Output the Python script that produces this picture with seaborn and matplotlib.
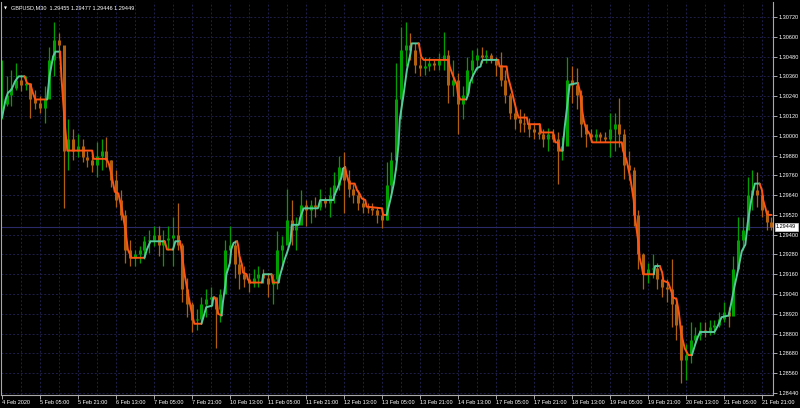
import numpy as np
import pandas as pd
import matplotlib
matplotlib.use("Agg")
import matplotlib.pyplot as plt
import matplotlib.transforms as mtransforms
import seaborn as sns

# ---------------- data ----------------
title_text = "GBPUSD,M30  1.29455 1.29477 1.29446 1.29449"
last_price = 1.29449
bar_step = 4  # each candle summarises 4 M30 bars (2 hours)

high = [
    1.3046, 1.3036, 1.3040, 1.3044, 1.3037, 1.3036, 1.3032, 1.3028, 1.3024, 1.3030,
    1.3054, 1.3069, 1.3062, 1.3036, 1.3010, 1.3004, 1.3001, 1.2998, 1.2991, 1.2990,
    1.2996, 1.2998, 1.2999, 1.2985, 1.2979, 1.2967, 1.2955, 1.2937, 1.2931, 1.2933,
    1.2939, 1.2943, 1.2945, 1.2945, 1.2943, 1.2945, 1.2951, 1.2959, 1.2935, 1.2914,
    1.2899, 1.2895, 1.2902, 1.2907, 1.2908, 1.2902, 1.2907, 1.2937, 1.2945, 1.2937,
    1.2927, 1.2921, 1.2917, 1.2919, 1.2921, 1.2919, 1.2917, 1.2916, 1.2942, 1.2939,
    1.2968, 1.2961, 1.2951, 1.2967, 1.2961, 1.2961, 1.2963, 1.2968, 1.2963, 1.2969,
    1.2978, 1.2988, 1.2990, 1.2979, 1.2971, 1.2967, 1.2963, 1.2959, 1.2959, 1.2957,
    1.2956, 1.2984, 1.2990, 1.3044, 1.3066, 1.3069, 1.3062, 1.3056, 1.3048, 1.3048,
    1.3048, 1.3046, 1.3050, 1.3063, 1.3052, 1.3046, 1.3038, 1.3030, 1.3048, 1.3052,
    1.3053, 1.3054, 1.3052, 1.3050, 1.3048, 1.3051, 1.3040, 1.3026, 1.3018, 1.3016,
    1.3014, 1.3011, 1.3008, 1.3008, 1.3004, 1.3005, 1.3004, 1.3002, 1.2999, 1.3048,
    1.3042, 1.3041, 1.3028, 1.3005, 1.3004, 1.3004, 1.3002, 1.3002, 1.3014, 1.3014,
    1.3023, 1.3004, 1.2991, 1.2981, 1.2955, 1.2929, 1.2923, 1.2928, 1.2923, 1.2914,
    1.2913, 1.2925, 1.2902, 1.2884, 1.2874, 1.2887, 1.2884, 1.2887, 1.2887, 1.2888,
    1.2888, 1.2893, 1.2899, 1.2896, 1.2927, 1.2951, 1.2951, 1.2975, 1.2979, 1.2978,
    1.2967, 1.2953, 1.2951,
]
low = [
    1.3010, 1.3018, 1.3018, 1.3028, 1.3027, 1.3028, 1.3011, 1.3016, 1.3014, 1.3008,
    1.3028, 1.3036, 1.3047, 1.2956, 1.2979, 1.2985, 1.2987, 1.2984, 1.2981, 1.2978,
    1.2975, 1.2979, 1.2981, 1.2969, 1.2957, 1.2949, 1.2923, 1.2921, 1.2921, 1.2923,
    1.2925, 1.2929, 1.2933, 1.2927, 1.2921, 1.2931, 1.2921, 1.2931, 1.2899, 1.2890,
    1.2881, 1.2882, 1.2887, 1.2890, 1.2896, 1.2871, 1.2887, 1.2907, 1.2927, 1.2914,
    1.2907, 1.2908, 1.2905, 1.2908, 1.2908, 1.2911, 1.2902, 1.2898, 1.2907, 1.2919,
    1.2937, 1.2934, 1.2931, 1.2947, 1.2945, 1.2947, 1.2951, 1.2955, 1.2957, 1.2951,
    1.2959, 1.2967, 1.2953, 1.2963, 1.2959, 1.2955, 1.2953, 1.2953, 1.2952, 1.2947,
    1.2944, 1.2949, 1.2963, 1.2979, 1.3010, 1.3042, 1.3046, 1.3038, 1.3036, 1.3037,
    1.3039, 1.3040, 1.3040, 1.3040, 1.3020, 1.3024, 1.3001, 1.3010, 1.3026, 1.3032,
    1.3040, 1.3044, 1.3044, 1.3044, 1.3036, 1.3030, 1.3020, 1.3010, 1.3004, 1.3002,
    1.3002, 1.2999, 1.2998, 1.2998, 1.2993, 1.2991, 1.2996, 1.2971, 1.2985, 1.3011,
    1.3020, 1.3016, 1.2999, 1.2993, 1.2996, 1.2996, 1.2996, 1.2996, 1.2987, 1.2991,
    1.2993, 1.2974, 1.2973, 1.2945, 1.2919, 1.2907, 1.2911, 1.2914, 1.2907, 1.2902,
    1.2899, 1.2884, 1.2876, 1.2850, 1.2852, 1.2862, 1.2874, 1.2876, 1.2878, 1.2879,
    1.2880, 1.2884, 1.2887, 1.2884, 1.2895, 1.2927, 1.2931, 1.2947, 1.2955, 1.2957,
    1.2951, 1.2943, 1.2943,
]
close = [
    1.3019, 1.3025, 1.3029, 1.3034, 1.3031, 1.3032, 1.3022, 1.3020, 1.3017, 1.3022,
    1.3046, 1.3058, 1.3055, 1.2991, 1.2998, 1.2991, 1.2994, 1.2987, 1.2985, 1.2982,
    1.2988, 1.2991, 1.2985, 1.2973, 1.2961, 1.2952, 1.2931, 1.2926, 1.2928, 1.2931,
    1.2936, 1.2937, 1.2940, 1.2934, 1.2937, 1.2938, 1.2940, 1.2934, 1.2907, 1.2898,
    1.2888, 1.2889, 1.2898, 1.2901, 1.2902, 1.2895, 1.2904, 1.2931, 1.2934, 1.2922,
    1.2916, 1.2913, 1.2911, 1.2914, 1.2916, 1.2914, 1.2910, 1.2913, 1.2931, 1.2934,
    1.2949, 1.2943, 1.2946, 1.2958, 1.2955, 1.2958, 1.2957, 1.2961, 1.2959, 1.2964,
    1.2970, 1.2981, 1.2973, 1.2968, 1.2964, 1.2959, 1.2957, 1.2956, 1.2955, 1.2952,
    1.2949, 1.2970, 1.2985, 1.3022, 1.3052, 1.3055, 1.3052, 1.3043, 1.3041, 1.3042,
    1.3044, 1.3043, 1.3046, 1.3049, 1.3031, 1.3034, 1.3019, 1.3025, 1.3040, 1.3046,
    1.3049, 1.3048, 1.3049, 1.3046, 1.3043, 1.3034, 1.3025, 1.3014, 1.3010, 1.3008,
    1.3007, 1.3004, 1.3002, 1.3001, 1.2998, 1.3001, 1.2998, 1.2991, 1.2994, 1.3034,
    1.3031, 1.3025, 1.3007, 1.3001, 1.2999, 1.3001, 1.2999, 1.2998, 1.3004, 1.3007,
    1.3001, 1.2982, 1.2979, 1.2952, 1.2928, 1.2916, 1.2919, 1.2920, 1.2913, 1.2908,
    1.2907, 1.2898, 1.2885, 1.2864, 1.2867, 1.2876, 1.2879, 1.2882, 1.2881, 1.2884,
    1.2885, 1.2889, 1.2893, 1.2891, 1.2919, 1.2937, 1.2943, 1.2964, 1.2967, 1.2964,
    1.2955, 1.2948, 1.29449,
]

# step moving-average indicator: vertices (bar index, price)
ma_bar = [
    0, 3, 5, 8, 11, 14, 19, 21, 24, 26, 28, 38, 40, 43, 45, 49, 50, 52, 53, 55,
    76, 77, 88, 90, 92, 95, 98, 101, 104, 106, 109, 120, 122, 125, 137, 139, 144, 146, 150, 151,
    154, 157, 160, 162, 168, 170, 172, 177, 178, 179, 181, 182, 185, 186, 188, 189, 192, 193, 195, 198,
    199, 200, 202, 203, 206, 207, 209, 219, 220, 227, 228, 233, 234, 236, 238, 240, 243, 244, 250, 251,
    254, 266, 268, 279, 280, 283, 286, 287, 289, 290, 292, 293, 297, 299, 301, 303, 306, 307, 320, 321,
    324, 327, 330, 332, 334, 335, 338, 341, 344, 345, 351, 352, 353, 355, 376, 377, 380, 383, 384, 386,
    391, 393, 394, 397, 400, 403, 404, 405, 418, 419, 425, 426, 429, 431, 433, 435, 442, 443, 453, 454,
    464, 466, 468, 470, 472, 474, 476, 478, 485, 487, 488, 490, 492, 495, 497, 522, 523, 526, 529, 532,
    533, 536, 537, 539, 540, 549, 550, 554, 556, 557, 561, 564, 565, 568, 570, 572, 575, 578, 581, 584,
    586, 588, 600, 603, 606, 612, 614, 617, 620, 623, 626, 628, 631, 634, 638, 640, 641, 643, 644, 645,
    648,
]
ma_price = [
    1.3011, 1.3022, 1.3026, 1.3028, 1.3033, 1.3036, 1.3036, 1.3032, 1.3031, 1.3026,
    1.3022, 1.3022, 1.3036, 1.3048, 1.3051, 1.3051, 1.3036, 1.3016, 1.3006, 1.2991,
    1.2991, 1.2986, 1.2986, 1.2983, 1.2977, 1.2966, 1.2965, 1.2955, 1.2943, 1.2931,
    1.2926, 1.2926, 1.2931, 1.2936, 1.2936, 1.2931, 1.2931, 1.2936, 1.2936, 1.2931,
    1.2915, 1.2903, 1.2892, 1.2886, 1.2886, 1.2891, 1.2896, 1.2897, 1.2902, 1.2902,
    1.2899, 1.2892, 1.2891, 1.2899, 1.2909, 1.2916, 1.2923, 1.2931, 1.2935, 1.2936,
    1.2933, 1.2927, 1.2922, 1.2917, 1.2916, 1.2913, 1.2911, 1.2911, 1.2916, 1.2916,
    1.2911, 1.2911, 1.2915, 1.2920, 1.2925, 1.2929, 1.2936, 1.2946, 1.2946, 1.2950,
    1.2956, 1.2956, 1.2961, 1.2961, 1.2964, 1.2969, 1.2975, 1.2980, 1.2981, 1.2977,
    1.2972, 1.2971, 1.2971, 1.2967, 1.2965, 1.2962, 1.2961, 1.2957, 1.2956, 1.2952,
    1.2952, 1.2961, 1.2971, 1.2981, 1.2995, 1.3010, 1.3024, 1.3040, 1.3050, 1.3056,
    1.3056, 1.3052, 1.3048, 1.3046, 1.3046, 1.3042, 1.3036, 1.3031, 1.3025, 1.3022,
    1.3022, 1.3026, 1.3032, 1.3037, 1.3041, 1.3042, 1.3045, 1.3046, 1.3046, 1.3042,
    1.3042, 1.3036, 1.3028, 1.3022, 1.3016, 1.3011, 1.3011, 1.3007, 1.3007, 1.3002,
    1.3002, 1.2996, 1.2996, 1.2991, 1.2991, 1.3006, 1.3018, 1.3031, 1.3032, 1.3026,
    1.3018, 1.3009, 1.3004, 1.3001, 1.2996, 1.2996, 1.2991, 1.2985, 1.2975, 1.2961,
    1.2951, 1.2935, 1.2926, 1.2920, 1.2916, 1.2916, 1.2921, 1.2921, 1.2917, 1.2912,
    1.2911, 1.2905, 1.2902, 1.2901, 1.2893, 1.2880, 1.2871, 1.2867, 1.2867, 1.2874,
    1.2878, 1.2881, 1.2881, 1.2885, 1.2890, 1.2891, 1.2898, 1.2909, 1.2919, 1.2930,
    1.2934, 1.2947, 1.2961, 1.2971, 1.2971, 1.2967, 1.2961, 1.2956, 1.2953, 1.2952,
    1.2952,
]

x_tick_bars = [0, 32, 64, 96, 128, 160, 192, 224, 256, 288, 320,
               352, 384, 416, 448, 480, 512, 544, 576, 608, 640]
x_tick_labels = ["4 Feb 2020", "5 Feb 05:00", "5 Feb 21:00", "6 Feb 13:00", "7 Feb 05:00",
                 "7 Feb 21:00", "10 Feb 13:00", "11 Feb 05:00", "11 Feb 21:00", "12 Feb 13:00",
                 "13 Feb 05:00", "13 Feb 21:00", "14 Feb 13:00", "17 Feb 05:00", "17 Feb 21:00",
                 "18 Feb 13:00", "19 Feb 05:00", "19 Feb 21:00", "20 Feb 13:00", "21 Feb 05:00",
                 "21 Feb 21:00"]
x_grid_bars = [16, 48, 80, 112, 144, 176, 208, 240, 272, 304, 336,
               368, 400, 432, 464, 496, 528, 560, 592, 624]
y_ticks = [1.28440, 1.28560, 1.28680, 1.28800, 1.28920, 1.29040, 1.29160, 1.29280,
           1.29400, 1.29520, 1.29640, 1.29760, 1.29880, 1.30000, 1.30120, 1.30240,
           1.30360, 1.30480, 1.30600, 1.30720]

# ---------------- style ----------------
sns.set_theme(style="dark")
plt.rcParams["font.family"] = ["Liberation Sans", "DejaVu Sans"]

BULL = "#00a000"
BEAR = "#b0600e"
MA_UP = "#58c99c"
MA_DN = "#ff5514"
GRID = "#1e1e4a"
AXC = "#a8a8a8"
FS = 4.0

fig = plt.figure(figsize=(8, 4.08), dpi=100, facecolor="black")
ax = fig.add_axes([1 / 800, 13 / 408, 772 / 800, 393 / 408])
ax.set_facecolor("black")

# candles
c = np.array(close)
o = np.r_[c[0], c[:-1]]
h = np.array(high)
l = np.array(low)
bars = np.arange(len(c)) * bar_step
up = c >= o
for mask, col in ((up, BULL), (~up, BEAR)):
    ax.vlines(bars[mask], l[mask], h[mask], color=col, lw=0.9, zorder=2)
    ax.vlines(bars[mask], np.minimum(o, c)[mask], np.maximum(o, c)[mask],
              color=col, lw=2.2, zorder=2)

# step MA with direction colouring
ma = pd.DataFrame({"bar": ma_bar, "price": ma_price})
diffs = np.diff(ma["price"].to_numpy())
seg_dir = []
cur = 1
for d in diffs:
    if d > 1e-9:
        cur = 1
    elif d < -1e-9:
        cur = -1
    seg_dir.append(cur)
runs = []
start = 0
for k in range(1, len(seg_dir)):
    if seg_dir[k] != seg_dir[k - 1]:
        runs.append((start, k, seg_dir[k - 1]))
        start = k
runs.append((start, len(seg_dir), seg_dir[-1]))
for s, e, dcol in runs:
    sub = ma.iloc[s:e + 1]
    sns.lineplot(data=sub, x="bar", y="price", color=MA_UP if dcol > 0 else MA_DN,
                 lw=1.4, sort=False, estimator=None, ax=ax, zorder=4)

# bid line
ax.axhline(last_price, color="#2a2a6a", lw=0.8, zorder=1)

# limits
ax.set_xlim(-0.84, 649.3)
ax.set_ylim(1.28428, 1.30811)

# grid
for gb in x_tick_bars[1:] + x_grid_bars:
    ax.axvline(gb, color=GRID, lw=0.7, ls=(0, (2, 2)), zorder=0)
for yt in y_ticks:
    ax.axhline(yt, color=GRID, lw=0.7, ls=(0, (2, 2)), zorder=0)
ax.grid(False)

# axes
ax.set_xlabel("")
ax.set_ylabel("")
ax.set_xticks(x_tick_bars)
ax.set_xticklabels(x_tick_labels)
ax.set_yticks(y_ticks)
ax.set_yticklabels([f"{v:.5f}" for v in y_ticks])
ax.yaxis.tick_right()
ax.tick_params(axis="x", direction="out", length=3, width=0.7, color=AXC,
               labelsize=FS, labelcolor="white", pad=0.5, bottom=True)
ax.tick_params(axis="y", direction="out", length=3, width=0.7, color=AXC,
               labelsize=FS, labelcolor="white", pad=1.0, right=True, left=False)
for lab in ax.get_xticklabels():
    lab.set_horizontalalignment("left")
for side in ("left", "right", "bottom"):
    ax.spines[side].set_visible(True)
    ax.spines[side].set_color(AXC)
    ax.spines[side].set_linewidth(0.8)
ax.spines["top"].set_visible(False)

# current price box
trans = mtransforms.blended_transform_factory(ax.transAxes, ax.transData)
ax.text(1.004, last_price, f"{last_price:.5f}", transform=trans, ha="left", va="center",
        fontsize=FS, color="black", zorder=6, clip_on=False,
        bbox=dict(boxstyle="square,pad=0.25", fc="white", ec="#d0d0d0", lw=0.5))

# title
fig.text(4 / 800, 1 - 8 / 408, "\u25BC", color="white", fontsize=2.8, va="center",
         ha="left", family=["DejaVu Sans"])
fig.text(11 / 800, 1 - 8 / 408, title_text, color="white", fontsize=FS, va="center", ha="left")

fig.savefig("out.png", dpi=100, facecolor="black")
